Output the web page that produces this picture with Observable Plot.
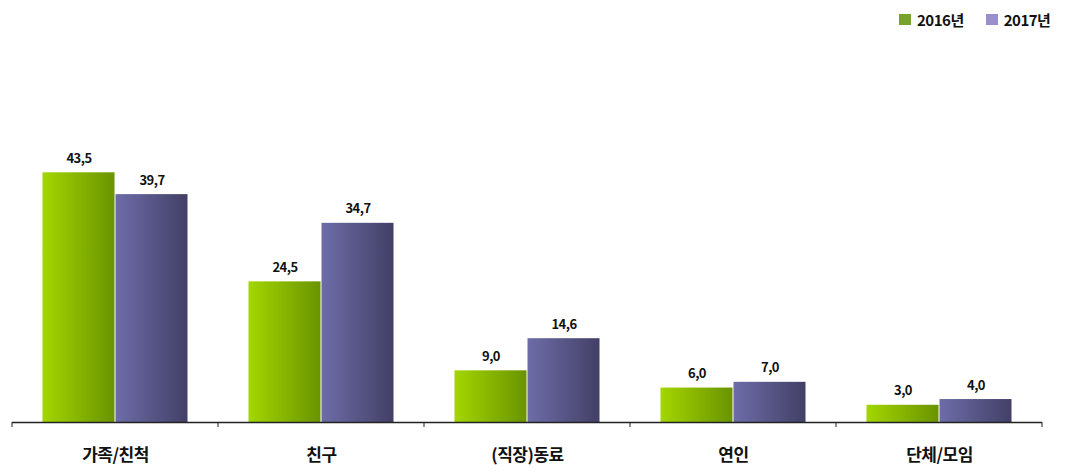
<!DOCTYPE html>
<html>
<head>
<meta charset="utf-8">
<script src="https://cdn.jsdelivr.net/npm/d3@7"></script>
<script src="https://cdn.jsdelivr.net/npm/@observablehq/plot@0.6"></script>
<style>
  html, body { margin: 0; padding: 0; background: #fff; }
  #wrap { position: relative; width: 1067px; height: 472px; }
  #legend { position: absolute; top: 9px; left: 899px; display: flex; align-items: center; white-space: nowrap;
    font-family: "Liberation Sans Narrow", "Noto Sans CJK KR", sans-serif; font-weight: bold; font-size: 15px; color: #111; letter-spacing: -0.5px; }
  #legend .sw { width: 12px; height: 11px; display: inline-block; margin-right: 6px; }
  #legend .item { display: flex; align-items: center; margin-right: 22px; white-space: nowrap; }
</style>
</head>
<body>
<div id="wrap">
  <div id="legend"></div>
  <div id="chart"></div>
</div>
<script>
const categories = ["가족/친척", "친구", "(직장)동료", "연인", "단체/모임"];
const years = ["2016년", "2017년"];
const values2016 = [43.5, 24.5, 9.0, 6.0, 3.0];
const values2017 = [39.7, 34.7, 14.6, 7.0, 4.0];

const data = [];
categories.forEach((c, i) => {
  data.push({category: c, year: years[0], value: values2016[i]});
  data.push({category: c, year: years[1], value: values2017[i]});
});

const fmt = v => d3.format(".1f")(v).replace(".", ",");
const font = '"Liberation Sans Narrow", "Noto Sans CJK KR", sans-serif';

const plot = Plot.plot({
  width: 1067,
  height: 472,
  marginTop: 135,
  marginBottom: 50,
  marginLeft: 11,
  marginRight: 25,
  style: {fontFamily: font, background: "#fff", letterSpacing: "-0.5px"},
  fx: {domain: categories, padding: 0, label: null},
  x: {domain: years, axis: null, paddingInner: 0, paddingOuter: 0.41},
  y: {domain: [0, 50], axis: null},
  color: {domain: years, range: ["url(#g2016)", "url(#g2017)"]},
  marks: [
    Plot.barY(data, {fx: "category", x: "year", y: "value", fill: "year", insetLeft: 0.5, insetRight: 0.5}),
    Plot.text(data, {fx: "category", x: "year", y: "value", text: d => fmt(d.value), lineAnchor: "bottom", dy: -10,
      fontSize: 13, fontWeight: "bold", fill: "#111"}),
    Plot.ruleY([0], {stroke: "#222", strokeWidth: 1.5}),
    Plot.axisFx({anchor: "bottom", tickSize: 0, tickPadding: 26, fontSize: 17, fontWeight: "bold", fill: "#111", label: null})
  ]
});

const svg = d3.select(plot);
const defs = svg.insert("defs", ":first-child");
const g1 = defs.append("linearGradient").attr("id", "g2016").attr("x1", "0").attr("x2", "1").attr("y1", "0").attr("y2", "0");
g1.append("stop").attr("offset", "0%").attr("stop-color", "#a3d600");
g1.append("stop").attr("offset", "100%").attr("stop-color", "#6a9300");
const g2 = defs.append("linearGradient").attr("id", "g2017").attr("x1", "0").attr("x2", "1").attr("y1", "0").attr("y2", "0");
g2.append("stop").attr("offset", "0%").attr("stop-color", "#6e6ca8");
g2.append("stop").attr("offset", "100%").attr("stop-color", "#424066");

// small tick marks at category boundaries, positioned with the fx scale
const fx = plot.scale("fx");
const yS = plot.scale("y");
const y0 = yS.apply(0);
const bounds = categories.map(c => fx.apply(c)).concat([fx.apply(categories[categories.length - 1]) + fx.bandwidth]);
svg.append("g").selectAll("line").data(bounds).join("line")
  .attr("x1", d => d).attr("x2", d => d)
  .attr("y1", y0).attr("y2", y0 + 5)
  .attr("stroke", "#222").attr("stroke-width", 1);

document.getElementById("chart").appendChild(plot);

const legend = document.getElementById("legend");
const swatchColors = ["#77a32a", "#9a8fca"];
years.forEach((y, i) => {
  const item = document.createElement("span");
  item.className = "item";
  const sw = document.createElement("span");
  sw.className = "sw";
  sw.style.background = swatchColors[i];
  item.appendChild(sw);
  item.appendChild(document.createTextNode(y));
  legend.appendChild(item);
});
</script>
</body>
</html>
